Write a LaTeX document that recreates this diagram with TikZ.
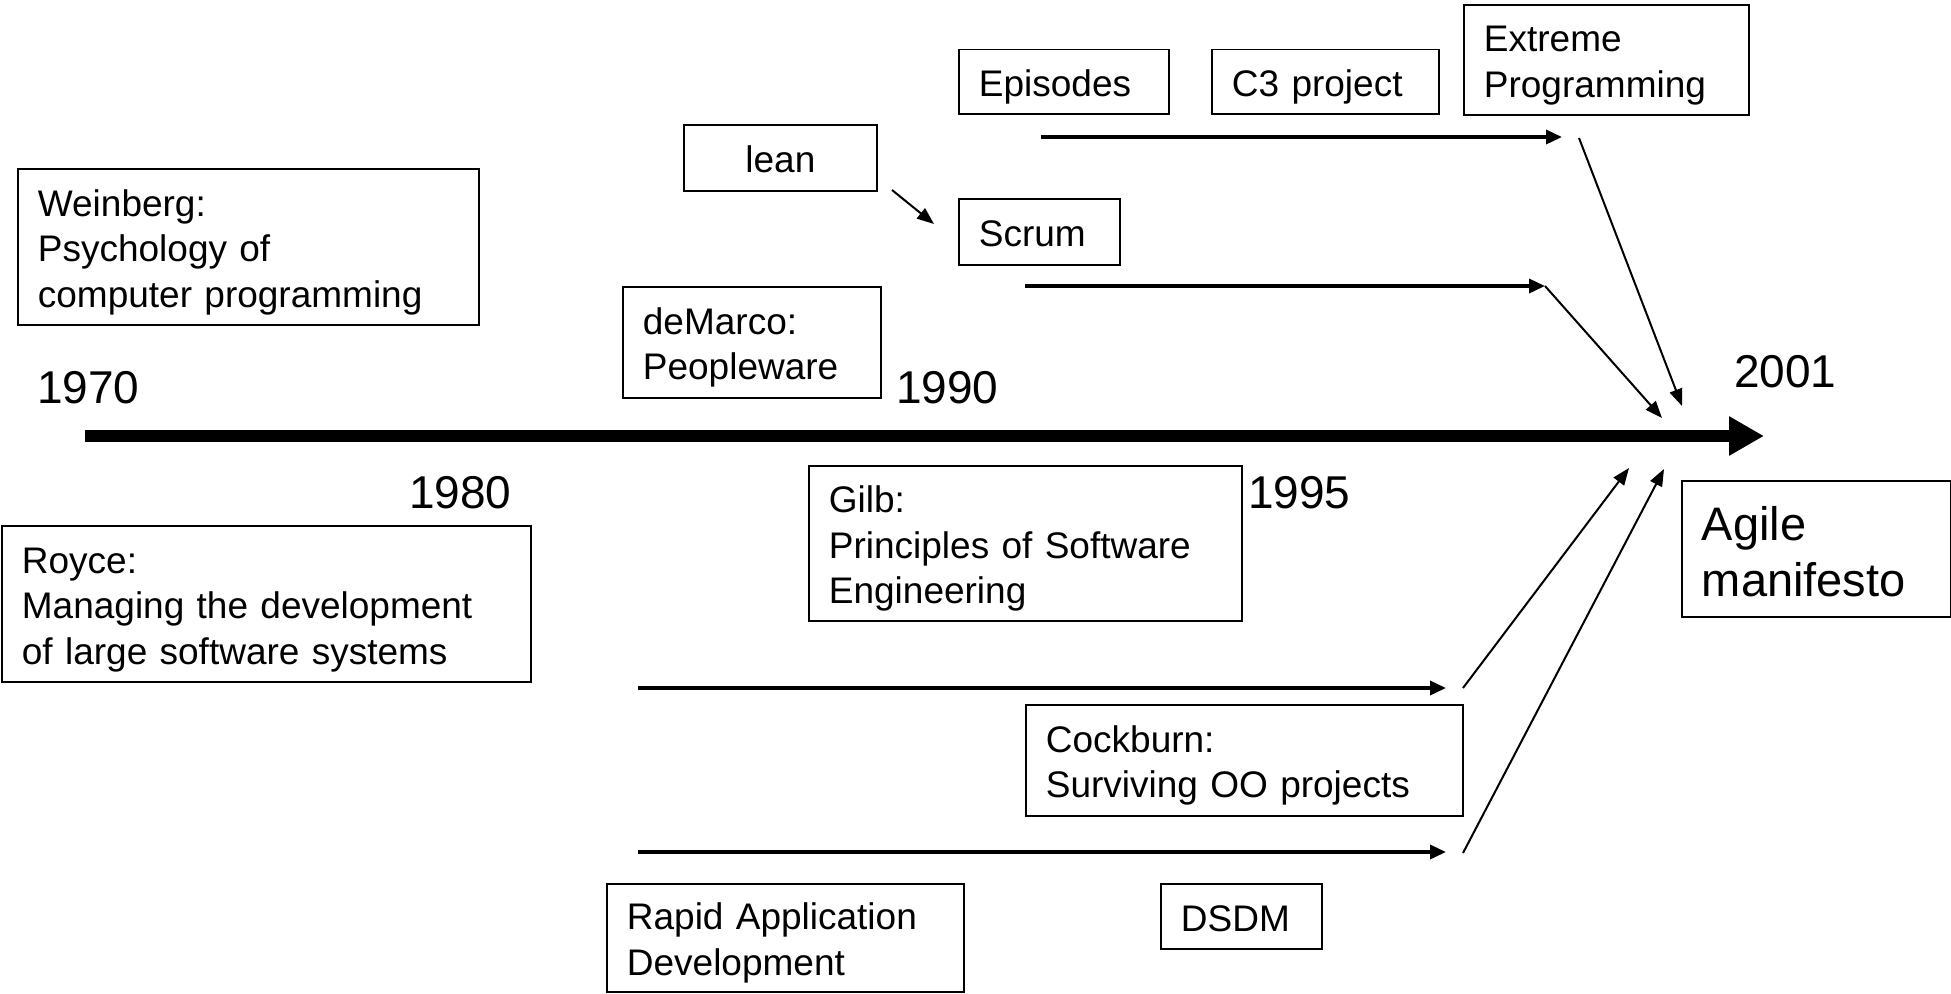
\documentclass[tikz,border=0pt]{standalone}
\usepackage{fontspec}
\setmainfont{Liberation Sans}
\usetikzlibrary{arrows.meta}

\tikzset{
  box/.style={draw, line width=1.8pt, anchor=north west, inner xsep=20pt,
    inner ysep=0pt, align=left, font=\fontsize{37}{45.5}\selectfont,
    execute at begin node={\rule{0pt}{39pt}},
    execute at end node={\rule[-9.5pt]{0pt}{0pt}}},
  bigbox/.style={box, font=\fontsize{47}{56}\selectfont,
    execute at begin node={\rule{0pt}{50pt}},
    execute at end node={\rule[-10.4pt]{0pt}{0pt}}},
  year/.style={anchor=base west, inner sep=0pt, font=\fontsize{46}{52}\selectfont},
  timeline/.style={line width=12pt, -{Triangle[length=35pt, width=37pt]}},
  track/.style={line width=3.5pt, -{Triangle[length=16pt, width=14pt]}},
  feed/.style={line width=2pt, -{Triangle[length=17pt, width=13pt]}},
}

\begin{document}
\begin{tikzpicture}[x=1pt, y=-1pt]
  \useasboundingbox (0,0) rectangle (1951,993);

  % main time axis
  \coordinate (tlS) at (85,436);
  \coordinate (tlE) at (1764,436);
  \draw[timeline] (tlS) -- (tlE);

  % years
  \node[year] (y1970) at (37,403.5) {1970};
  \node[year] (y1990) at (896,403.5) {1990};
  \node[year] (y2001) at (1734,387.5) {2001};
  \node[year] (y1980) at (409,508) {1980};
  \node[year] (y1995) at (1248,508) {1995};

  % upper boxes
  \node[box, minimum width=210pt, minimum height=64.5pt, text width=170pt] (episodes) at (958,48.5) {Episodes};
  \node[box, minimum width=227pt, minimum height=64.5pt, text width=187pt] (c3) at (1211,48.5) {C3 project};
  \node[box, minimum width=285pt, minimum height=110pt, text width=245pt] (xp) at (1463,4) {Extreme\\Programming};
  \node[box, align=center, minimum width=193pt, minimum height=66pt, text width=153pt] (lean) at (683,124) {lean};
  \node[box, minimum width=161pt, minimum height=66pt, text width=121pt] (scrum) at (958,198) {Scrum};
  \node[box, minimum width=461pt, minimum height=156pt, text width=421pt] (weinberg) at (17,168) {Weinberg:\\Psychology of\\computer programming};
  \node[box, minimum width=258pt, minimum height=111pt, text width=218pt] (demarco) at (622,286) {deMarco:\\Peopleware};

  % lower boxes
  \node[box, minimum width=433pt, minimum height=155pt, text width=393pt] (gilb) at (808,465) {Gilb:\\Principles of Software\\Engineering};
  \node[box, minimum width=529pt, minimum height=156pt, text width=489pt] (royce) at (1,525) {Royce:\\Managing the development\\of large software systems};
  \node[bigbox, minimum width=269pt, minimum height=136pt, text width=229pt] (agile) at (1681,480) {Agile\\manifesto};
  \node[box, minimum width=437pt, minimum height=111pt, text width=397pt] (cockburn) at (1025,704) {Cockburn:\\Surviving OO projects};
  \node[box, minimum width=357pt, minimum height=108pt, text width=317pt] (rad) at (606,883) {Rapid Application\\Development};
  \node[box, minimum width=161pt, minimum height=65pt, text width=121pt] (dsdm) at (1160,883) {DSDM};

  % connector end points
  \coordinate (lnS) at (892,190);
  \coordinate (lnT) at (934,224);
  \coordinate (epS) at (1041,137);
  \coordinate (epE) at (1562,137);
  \coordinate (scS) at (1025,286);
  \coordinate (scE) at (1545,286);
  \coordinate (scT) at (1662,418);
  \coordinate (xpS) at (1579,138);
  \coordinate (xpT) at (1682,406);
  \coordinate (r1S) at (638,688);
  \coordinate (r1E) at (1446,688);
  \coordinate (c1S) at (1463,688);
  \coordinate (c1T) at (1629,468);
  \coordinate (r2S) at (638,852);
  \coordinate (r2E) at (1446,852);
  \coordinate (c2S) at (1463,853);
  \coordinate (c2T) at (1664,469);

  % lean feeds Scrum
  \draw[feed] (lnS) -- (lnT);

  % tracks leading to the manifesto
  \draw[track] (epS) -- (epE);
  \draw[feed] (xpS) -- (xpT);
  \draw[track] (scS) -- (scE);
  \draw[feed] (scE) -- (scT);
  \draw[track] (r1S) -- (r1E);
  \draw[feed] (c1S) -- (c1T);
  \draw[track] (r2S) -- (r2E);
  \draw[feed] (c2S) -- (c2T);
\end{tikzpicture}
\end{document}
